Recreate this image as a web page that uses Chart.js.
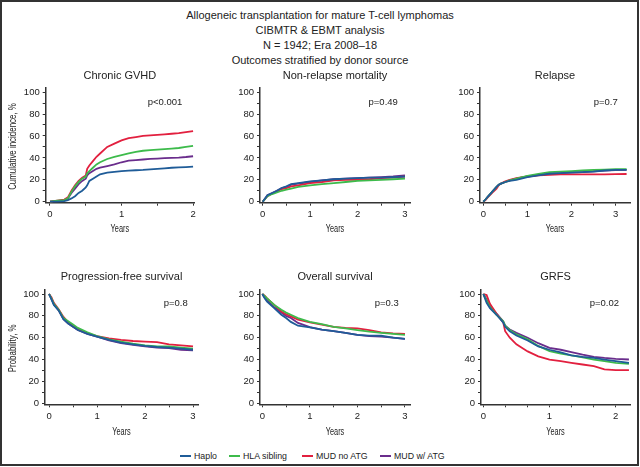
<!DOCTYPE html>
<html><head><meta charset="utf-8">
<script src="https://cdn.jsdelivr.net/npm/chart.js@4.4.1/dist/chart.umd.min.js"></script>
<style>
html,body{margin:0;padding:0;background:#fff;}
body{width:640px;height:467px;position:relative;overflow:hidden;font-family:"Liberation Sans",Arial,sans-serif;color:#222;}
#frame{position:absolute;left:0;top:0;width:639px;height:466px;box-sizing:border-box;border:2px solid #333;pointer-events:none;}
#title{position:absolute;left:0;width:640px;top:8px;text-align:center;font-size:11px;line-height:15px;}
canvas{position:absolute;}
.lg{position:absolute;top:450px;height:12px;font-size:8.8px;line-height:12px;white-space:nowrap;}
.lg i{display:inline-block;width:11px;height:2px;vertical-align:middle;margin-right:3px;position:relative;top:-1px;}
</style></head>
<body>
<div id="title">
<div>Allogeneic transplantation for mature T-cell lymphomas</div>
<div>CIBMTR &amp; EBMT analysis</div>
<div>N = 1942; Era 2008–18</div>
<div>Outcomes stratified by donor source</div>
</div>
<div id="legendBox"></div>
<div id="frame"></div>
<script>
// ---------------- DATA ----------------
const seriesNames = ['Haplo', 'HLA sibling', 'MUD no ATG', 'MUD w/ ATG'];
const panelTitles = ['Chronic GVHD', 'Non-relapse mortality', 'Relapse', 'Progression-free survival', 'Overall survival', 'GRFS'];
const pValues = ['p<0.001', 'p=0.49', 'p=0.7', 'p=0.8', 'p=0.3', 'p=0.02'];
const yTickLabels = [0, 20, 40, 60, 80, 100];

// Chronic GVHD (cumulative incidence, %)
const gvhdYears  = [0,0.1,0.2,0.25,0.3,0.35,0.4,0.45,0.5,0.52,0.55,0.6,0.65,0.7,0.8,0.9,1.0,1.1,1.2,1.3,1.4,1.5,1.6,1.7,1.8,1.9,2.0];
const gvhdHaplo  = [0,0,0.5,1.5,3,5,8,10,13,15,19,21,23,25,26.5,27.3,28,28.3,28.7,29,29.5,30,30.5,31,31.3,31.6,32];
const gvhdSib    = [0,1,1.5,3,9,14,18,21,23,26,28,31,34,36,39,41,42.5,44,45.5,46.5,47,47.5,48,48.5,49,50,51];
const gvhdMudNo  = [0,1,2,4,10,15,19,22,24,30,33,37,41,44,50,53,56,58,59,60,60.5,61,61.5,62,62.5,63.5,64.5];
const gvhdMudAtg = [0,0.5,1.5,3,8,12,16,19,21,24,26,28,30,31,32.5,34,36,37.5,38,38.5,39,39.3,39.7,40,40.3,40.8,41.5];

// Non-relapse mortality
const nrmYears  = [0,0.05,0.1,0.2,0.3,0.4,0.5,0.6,0.75,1.0,1.25,1.5,1.75,2.0,2.25,2.5,2.75,3.0];
const nrmHaplo  = [0,3,6,8,10,12.5,14,16,17,18.5,19.5,20.5,21,21.5,22,22,22.5,23];
const nrmSib    = [0,2.5,5,7,8.5,10,11,12,13.5,15,16,17,18,19,19.5,20,20.5,21];
const nrmMudNo  = [0,2.5,5,7.5,9.5,11.5,12.5,14,15,17,18,19.5,20,20,20.5,21.5,22,23];
const nrmMudAtg = [0,3,6,8,10,12.5,13.5,15.5,16.5,18,19.5,20.5,21,21.5,22,22.5,23,24];

// Relapse
const relYears  = [0,0.05,0.1,0.2,0.3,0.35,0.4,0.5,0.6,0.75,1.0,1.25,1.5,1.75,2.0,2.25,2.5,2.75,3.0,3.25];
const relHaplo  = [0,2,4.5,9,13.5,15.5,16.5,18,19,20,22.5,24,25.5,26,26.5,27,27.5,28.5,29,29];
const relSib    = [0,2,4.5,9,13.5,15.5,16.5,18,19.5,21,23.5,25.5,27,27.5,28,28.5,29,29.3,29.6,29.8];
const relMudNo  = [0,1.5,4,8,12,15,16.5,18.5,20,21.5,23,24,24.5,25,25,25,25,25,25.2,25.3];
const relMudAtg = [0,2,4.5,9,13.5,15.5,16.5,18,19.5,21,23,24.5,25.5,26,26.8,27,27.8,28.5,28.8,29];

// Progression-free survival (probability, %)
const pfsYears  = [0,0.05,0.1,0.2,0.3,0.4,0.5,0.6,0.8,1.0,1.25,1.5,1.75,2.0,2.25,2.5,2.75,3.0];
const pfsHaplo  = [100,95,90,85,77,73,70,67,63.5,61,58,55.5,54,52.5,51.5,51,50,49];
const pfsSib    = [100,96,91,85.5,78,75,72,69,65,61.5,58.5,56.5,54.5,53,52,52,51,50];
const pfsMudNo  = [100,97,92,86,79,74,70.5,67.5,64,61.5,59.5,58,57,56.5,56,54,53,52];
const pfsMudAtg = [100,95.5,90.5,85,77,73,70,67,63.5,61,57.5,55,53.5,52,51,50.5,49,48.5];

// Overall survival
const osYears  = [0,0.05,0.1,0.25,0.4,0.5,0.6,0.75,1.0,1.25,1.5,1.75,2.0,2.25,2.5,2.75,3.0];
const osHaplo  = [100,96,93,87,81,78,74.5,71,69.5,67.5,66,64.5,62.7,62,61.8,60,59];
const osSib    = [100,98,96,90,85.5,83,81,78,74.5,72.5,70,68.5,67,65.5,64.5,63.5,62.7];
const osMudNo  = [100,98.5,96,90,84,81.5,79.5,76.5,74,72,70,69,68.5,67,64.8,64,63.6];
const osMudAtg = [100,96.5,94,88,83,80,78,73.5,69.7,67.5,66,64.5,62.7,61.5,61,60,59];

// GRFS
const grfsYears  = [0,0.05,0.1,0.2,0.3,0.33,0.4,0.5,0.67,0.83,1.0,1.17,1.33,1.5,1.67,1.83,2.0,2.2];
const grfsHaplo  = [100,92,87,81,74,70,66,62,57.5,52,49,46.5,43.8,42.5,41.5,40,38.6,37];
const grfsSib    = [100,94,88,81,75,71,67,63,58.5,52.5,47.7,45.5,43.8,42,40,38.5,37,36];
const grfsMudNo  = [100,99,91,82,74,66,60,54,47.5,43,40,38.5,37,35.5,34,31,30.4,30.4];
const grfsMudAtg = [100,95,89,82,75,71,67.5,64.4,60,55,50.8,49,46.8,44.5,42.5,41.5,40.7,40.1];

// ---------------- STYLE / LAYOUT ----------------
const colors = ['#1f5c98', '#3dbb4b', '#e2203f', '#6a2d8c'];
const FONT = '"Liberation Sans", Arial, sans-serif';
const INK = '#222';

const panels = [
  {title: panelTitles[0], p: pValues[0], years: gvhdYears, vals: [gvhdHaplo, gvhdSib, gvhdMudNo, gvhdMudAtg], yTitle: 'Cumulative incidence, %',
   L:45.7, R:193.5, T:87.3, B:202.7, titleY:75.7, yearsY:229.3, xmin:-0.06, xmax:2.013, xstep:0.5, ymin:-0.9, ymax:104.4, pPos:[1.85, 91]},
  {title: panelTitles[1], p: pValues[1], years: nrmYears, vals: [nrmHaplo, nrmSib, nrmMudNo, nrmMudAtg], yTitle: '',
   L:260, R:410, T:87.3, B:202.7, titleY:75.7, yearsY:229.3, xmin:-0.057, xmax:3.106, xstep:0.5, ymin:-0.9, ymax:104.4, pPos:[2.85, 91]},
  {title: panelTitles[2], p: pValues[2], years: relYears, vals: [relHaplo, relSib, relMudNo, relMudAtg], yTitle: '',
   L:480, R:630, T:87.3, B:202.7, titleY:75.7, yearsY:229.3, xmin:-0.075, xmax:3.327, xstep:0.5, ymin:-0.9, ymax:104.4, pPos:[3.05, 91]},
  {title: panelTitles[3], p: pValues[3], years: pfsYears, vals: [pfsHaplo, pfsSib, pfsMudNo, pfsMudAtg], yTitle: 'Probability, %',
   L:45, R:197.3, T:289.3, B:404.3, titleY:277.3, yearsY:431.7, xmin:-0.084, xmax:3.104, xstep:0.5, ymin:-0.9, ymax:104.3, pPos:[2.89, 91.5]},
  {title: panelTitles[4], p: pValues[4], years: osYears, vals: [osHaplo, osSib, osMudNo, osMudAtg], yTitle: '',
   L:260, R:409.3, T:289.3, B:404.3, titleY:277.3, yearsY:431.7, xmin:-0.049, xmax:3.106, xstep:0.5, ymin:-0.9, ymax:104.3, pPos:[2.87, 91.5]},
  {title: panelTitles[5], p: pValues[5], years: grfsYears, vals: [grfsHaplo, grfsSib, grfsMudNo, grfsMudAtg], yTitle: '',
   L:481, R:630, T:289.3, B:404.3, titleY:277.3, yearsY:431.7, xmin:-0.035, xmax:2.216, xstep:1/3, ymin:-0.9, ymax:104.3, pPos:[2.05, 91]}
];

// p-value annotation (positioned through the chart's own scales)
const pLabel = {
  id: 'pLabel',
  afterDatasetsDraw(chart, args, opts) {
    const {ctx, scales: {x, y}} = chart;
    ctx.save();
    ctx.font = '9.5px ' + FONT;
    ctx.fillStyle = INK;
    ctx.textAlign = 'right';
    ctx.textBaseline = 'middle';
    ctx.fillText(opts.text, x.getPixelForValue(opts.x), y.getPixelForValue(opts.y));
    ctx.restore();
  }
};

// condensed axis titles (the reference uses a narrow face)
const condensedTitles = {
  id: 'condensedTitles',
  afterDraw(chart, args, opts) {
    const {ctx, chartArea, scales: {x}} = chart;
    ctx.save();
    ctx.fillStyle = INK;
    ctx.textAlign = 'center';
    ctx.textBaseline = 'middle';
    ctx.font = '11.5px ' + FONT;
    // x title
    ctx.save();
    ctx.translate((chartArea.left + chartArea.right) / 2, x.bottom - 6.6);
    ctx.scale(0.64, 1);
    ctx.fillText(opts.xText, 0, 0);
    ctx.restore();
    // y title
    if (opts.yText) {
      ctx.save();
      ctx.font = '11px ' + FONT;
      ctx.translate(opts.yX, (chartArea.top + chartArea.bottom) / 2 + 1.5);
      ctx.rotate(-Math.PI / 2);
      ctx.scale(0.72, 1);
      ctx.fillText(opts.yText, 0, 0);
      ctx.restore();
    }
    ctx.restore();
  }
};

panels.forEach((p, i) => {
  const TITLE_LH = 11 * 1.2, YEARS_LH = 11 * 1.2;
  const CL = p.yTitle ? 0 : Math.floor(p.L - 32);
  const CT = Math.floor(p.titleY - TITLE_LH / 2 - 7);
  const padR = 8;
  const CW = Math.ceil(p.R + padR - CL);
  const XH = p.yearsY + YEARS_LH / 2 - p.B;
  const CH = Math.ceil(p.B + XH - CT);
  const padB = CH - (p.B + XH - CT);
  const tPadTop = p.titleY - TITLE_LH / 2 - CT;
  const tPadBot = p.T - CT - TITLE_LH - tPadTop;
  const YW = p.L - CL;

  const cv = document.createElement('canvas');
  cv.width = CW; cv.height = CH;
  cv.style.left = CL + 'px'; cv.style.top = CT + 'px';
  cv.style.width = CW + 'px'; cv.style.height = CH + 'px';
  document.body.insertBefore(cv, document.getElementById('frame'));

  const datasets = p.vals.map((v, k) => ({
    label: seriesNames[k],
    data: p.years.map((t, j) => ({x: t, y: v[j]})),
    borderColor: colors[k],
    backgroundColor: colors[k],
    borderWidth: 1.8,
    pointRadius: 0,
    tension: 0,
    fill: false
  }));

  const xTicks = [];
  for (let t = 0; t <= p.xmax + 1e-9; t += p.xstep) xTicks.push(Math.round(t * 1000) / 1000);
  const yTicks = [];
  for (let v = 0; v <= 100; v += 10) yTicks.push(v);

  new Chart(cv, {
    type: 'line',
    data: {datasets},
    options: {
      responsive: false,
      animation: false,
      devicePixelRatio: 1,
      layout: {padding: {left: 0, top: 0, right: padR, bottom: padB}},
      plugins: {
        legend: {display: false},
        tooltip: {enabled: false},
        title: {display: true, text: p.title, fullSize: false, color: INK,
                font: {family: FONT, size: 11, weight: 'normal', lineHeight: 1.2},
                padding: {top: tPadTop, bottom: tPadBot}},
        pLabel: {text: p.p, x: p.pPos[0], y: p.pPos[1]},
        condensedTitles: {xText: 'Years', yText: p.yTitle, yX: 13.3 - CL}
      },
      scales: {
        x: {
          type: 'linear', min: p.xmin, max: p.xmax,
          afterBuildTicks: s => { s.ticks = xTicks.map(v => ({value: v})); },
          afterFit: s => { s.height = XH; },
          ticks: {
            autoSkip: false, maxRotation: 0, padding: 3, color: INK,
            font: {family: FONT, size: 9.5},
            callback: v => (Math.abs(v - Math.round(v)) < 1e-6 ? String(Math.round(v)) : '')
          },
          grid: {display: true, drawOnChartArea: false, drawTicks: true, tickLength: 3, color: '#333', lineWidth: 1},
          border: {display: true, color: '#333', width: 1.5},
          title: {display: false}
        },
        y: {
          type: 'linear', min: p.ymin, max: p.ymax,
          afterBuildTicks: s => { s.ticks = yTicks.map(v => ({value: v})); },
          afterFit: s => { s.width = YW; },
          ticks: {
            autoSkip: false, padding: 3, color: INK,
            font: {family: FONT, size: 9.5},
            callback: v => (yTickLabels.includes(v) ? String(v) : '')
          },
          grid: {display: true, drawOnChartArea: false, drawTicks: true, tickLength: 3, color: '#333', lineWidth: 1},
          border: {display: true, color: '#333', width: 1.5},
          title: {display: false}
        }
      }
    },
    plugins: [pLabel, condensedTitles]
  });
});

// legend
const legendLefts = [180, 229, 302, 380];
const lb = document.getElementById('legendBox');
seriesNames.forEach((n, k) => {
  const d = document.createElement('div');
  d.className = 'lg';
  d.style.left = legendLefts[k] + 'px';
  d.innerHTML = '<i style="background:' + colors[k] + '"></i>' + n;
  lb.appendChild(d);
});
</script>
</body></html>
